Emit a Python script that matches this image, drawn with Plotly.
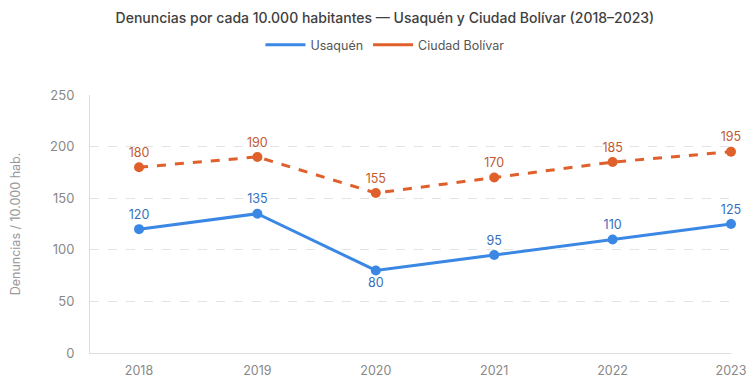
import plotly.graph_objects as go

years = ["2018", "2019", "2020", "2021", "2022", "2023"]
usaquen = [120, 135, 80, 95, 110, 125]
bolivar = [180, 190, 155, 170, 185, 195]
usaquen_pos = ["top center", "top center", "bottom center", "top center", "top center", "top center"]
bolivar_pos = ["top center"] * 6
y_ticks = [0, 50, 100, 150, 200, 250]

FONT = "Inter, Roboto, sans-serif"
BLUE = "#3b87e4"
BLUE_TXT = "#3370bd"
ORANGE = "#e0602b"
ORANGE_TXT = "#c25a30"

fig = go.Figure()
fig.add_trace(go.Scatter(
    x=years, y=usaquen, name="Usaquén", mode="lines+markers+text", showlegend=False,
    line=dict(color=BLUE, width=3), marker=dict(size=10, color=BLUE),
    text=[str(v) for v in usaquen], textposition=usaquen_pos,
    textfont=dict(color=BLUE_TXT, size=12.5, family=FONT), cliponaxis=False,
))
fig.add_trace(go.Scatter(
    x=years, y=bolivar, name="Ciudad Bolívar", mode="lines+markers+text", showlegend=False,
    line=dict(color=ORANGE, width=3, dash="dash"), marker=dict(size=10, color=ORANGE),
    text=[str(v) for v in bolivar], textposition=bolivar_pos,
    textfont=dict(color=ORANGE_TXT, size=12.5, family=FONT), cliponaxis=False,
))
# legend entries (line only, as in the reference)
fig.add_trace(go.Scatter(x=[None], y=[None], name="Usaquén", mode="lines",
                         line=dict(color=BLUE, width=3)))
fig.add_trace(go.Scatter(x=[None], y=[None], name="Ciudad Bolívar", mode="lines",
                         line=dict(color=ORANGE, width=3)))

fig.update_layout(
    width=746, height=377,
    margin=dict(l=90, r=15, t=95, b=24, autoexpand=False),
    paper_bgcolor="white", plot_bgcolor="white",
    font=dict(family=FONT, color="#888888"),
    title=dict(text="Denuncias por cada 10.000 habitantes — Usaquén y Ciudad Bolívar (2018–2023)",
               x=0.516, xref="container", xanchor="center", y=0.952, yanchor="middle",
               font=dict(size=14, color="#404040", family=FONT, weight=500)),
    legend=dict(orientation="h", x=0.516, xanchor="center", xref="container",
                y=0.88, yanchor="middle", yref="container",
                font=dict(size=12.5, color="#555555", family=FONT),
                itemwidth=40, traceorder="normal"),
    showlegend=True,
    xaxis=dict(type="category", range=[-0.414, 5.0], showgrid=False, automargin=False,
               showline=True, linecolor="#dddddd", linewidth=1, ticklabelstandoff=6,
               ticks="", tickfont=dict(size=12.5, color="#888888"), fixedrange=True),
    yaxis=dict(range=[0, 250], tickvals=y_ticks, showgrid=True, automargin=False,
               gridcolor="#e3e3e3", griddash="dash", gridwidth=1,
               showline=True, linecolor="#dddddd", linewidth=1, zeroline=False,
               ticks="", ticklabelstandoff=12,
               tickfont=dict(size=13, color="#888888"),
               title=dict(text="Denuncias / 10.000 hab.", standoff=26,
                          font=dict(size=12.5, color="#999999"))),
)

fig.write_html("out.html", config={"displayModeBar": False}, post_script=(
    "document.documentElement.style.overflow='hidden';"
    "document.body.style.margin='0';document.body.style.overflow='hidden';"
))
